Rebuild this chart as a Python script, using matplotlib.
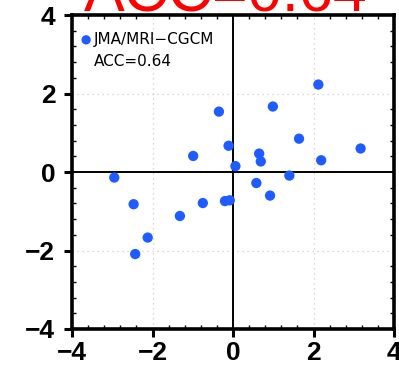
import matplotlib
matplotlib.use("Agg")
import matplotlib.pyplot as plt
from matplotlib.ticker import MultipleLocator

# Observed vs. forecast index values
obs = [2.12, 0.99, -0.35, 1.64, 3.17, -0.11, 0.65, 0.69, 2.19, 0.06, -0.99,
       1.40, 0.58, 0.92, -2.95, -2.47, -0.75, -1.32, -0.20, -0.08, -2.12, -2.43]
fcst = [2.23, 1.67, 1.54, 0.85, 0.60, 0.67, 0.47, 0.27, 0.30, 0.15, 0.41,
        -0.09, -0.28, -0.60, -0.14, -0.82, -0.79, -1.12, -0.74, -0.72, -1.67, -2.09]
model_name = "JMA/MRI\u2212CGCM"
acc_text = "ACC=0.64"
ticks = [-4, -2, 0, 2, 4]
tick_labels = ["\u22124", "\u22122", "0", "2", "4"]

blue = "#1f5cff"

fig = plt.figure(figsize=(3.99, 3.68), dpi=100)
ax = fig.add_axes([0.1805, 0.106, 0.807, 0.853])

ax.set_xlim(-4, 4)
ax.set_ylim(-4, 4)

# dotted reference grid at +-2
for v in (-2, 2):
    ax.axvline(v, color="#cccccc", lw=0.9, ls=(0, (1, 3)), zorder=0)
    ax.axhline(v, color="#cccccc", lw=0.9, ls=(0, (1, 3)), zorder=0)

ax.axhline(0, color="black", lw=1.4, zorder=1)
ax.axvline(0, color="black", lw=1.4, zorder=1)

ax.scatter(obs, fcst, s=55, color=blue, edgecolors="none", zorder=3)

for sp in ax.spines.values():
    sp.set_linewidth(2.6)

ax.set_xticks(ticks)
ax.set_yticks(ticks)
ax.set_xticklabels(tick_labels)
ax.set_yticklabels(tick_labels)
ax.xaxis.set_minor_locator(MultipleLocator(0.4))
ax.yaxis.set_minor_locator(MultipleLocator(0.4))
ax.tick_params(which="major", direction="out", length=6, width=2.2,
               labelsize=19, top=False, right=False)
ax.tick_params(axis="x", which="major", pad=3)
ax.tick_params(axis="y", which="major", pad=6)
ax.tick_params(which="minor", direction="in", length=3, width=1.0,
               top=True, right=True)
for lab in ax.get_xticklabels() + ax.get_yticklabels():
    lab.set_family("Liberation Sans")
    lab.set_weight("bold")

# legend entry and score
ax.scatter([-3.65], [3.37], s=45, color=blue, edgecolors="none", zorder=4,
           clip_on=False)
ax.text(-3.46, 3.37, model_name, fontsize=11, family="DejaVu Sans",
        va="center", ha="left")
ax.text(-3.46, 2.82, acc_text, fontsize=11, family="DejaVu Sans",
        va="center", ha="left")

fig.text(0.566, 1 - 12 / 368, acc_text, color="red", fontsize=44,
         family="Liberation Sans", ha="center", va="baseline")

fig.savefig("out.png", dpi=100)
